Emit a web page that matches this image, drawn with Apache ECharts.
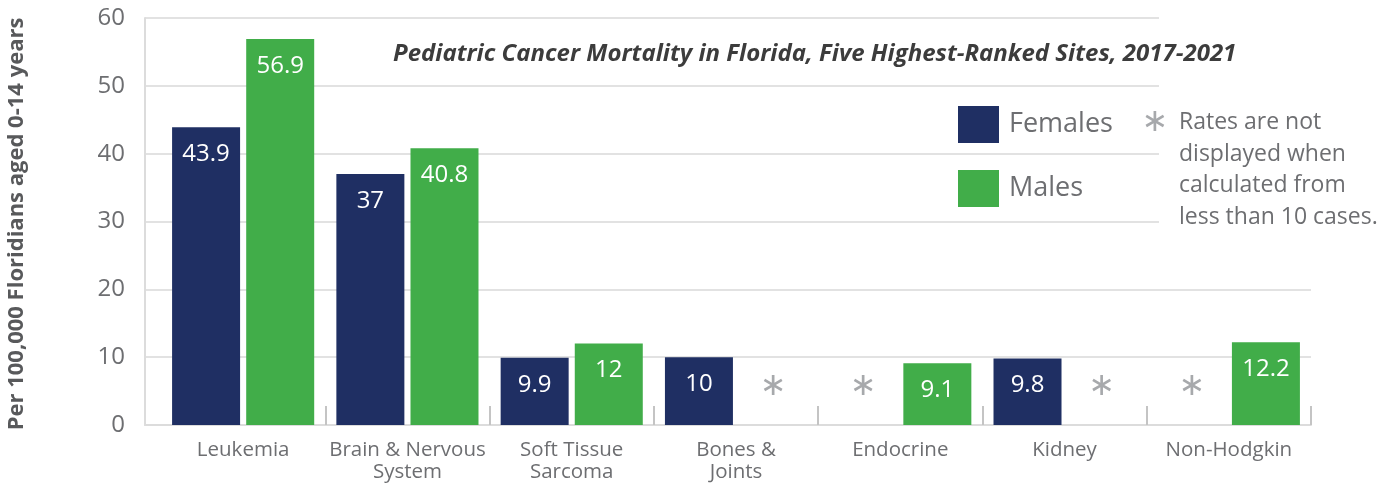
<!DOCTYPE html>
<html lang="en">

<head>
    <meta charset="UTF-8">
    <title>Pediatric Cancer Mortality in Florida</title>
    <style>
        html, body { margin: 0; padding: 0; background: #fff; }
        #main { width: 1397px; height: 485px; }
    </style>
</head>

<body>
    <div id="main"></div>
</body>
<script src="https://cdn.jsdelivr.net/npm/echarts@6/dist/echarts.min.js"></script>
<script>
    // categories and values (null = not displayed, fewer than 10 cases)
    const sites = ['Leukemia', 'Brain & Nervous\nSystem', 'Soft Tissue\nSarcoma', 'Bones &\nJoints', 'Endocrine', 'Kidney', 'Non-Hodgkin'];
    const females = [43.9, 37, 9.9, 10, null, 9.8, null];
    const males = [56.9, 40.8, 12, null, 9.1, null, 12.2];
    const yTicks = [0, 10, 20, 30, 40, 50, 60];

    const NAVY = '#1f2f63';
    const GREEN = '#41ad49';
    const GREY = '#6d6e71';
    const FONT = '"Open Sans", sans-serif';

    // missing values get a zero-height bar carrying an asterisk
    function toData(arr) {
        return arr.map(v => {
            if (v !== null) return v;
            return {
                value: 0,
                label: {
                    show: true,
                    formatter: '\u2217',
                    position: ['50%', -38],
                    align: 'center',
                    verticalAlign: 'middle',
                    color: '#a7a9ac',
                    fontFamily: 'DejaVu Sans',
                    fontSize: 32
                }
            };
        });
    }

    function barSeries(name, color, arr) {
        return {
            name: name,
            type: 'bar',
            xAxisIndex: 1,
            yAxisIndex: 1,
            barWidth: 68,
            barGap: '9%',
            itemStyle: { color: color },
            label: {
                show: true,
                position: 'insideTop',
                distance: 15,
                color: '#fff',
                fontFamily: FONT,
                fontSize: 24
            },
            data: toData(arr)
        };
    }

    const chart = echarts.init(document.getElementById('main'));
    chart.setOption({
        animation: false,
        grid: [
            { left: 145, right: 86, top: 18, bottom: 60 },
            { left: 161, right: 86, top: 18, bottom: 60 }
        ],
        legend: {
            orient: 'vertical',
            left: 953,
            top: 101,
            itemWidth: 41,
            itemHeight: 37,
            itemGap: 27,
            icon: 'rect',
            textStyle: { color: GREY, fontFamily: FONT, fontSize: 27, padding: [0, 0, 0, 5] },
            data: ['Females', 'Males']
        },
        xAxis: [
            {
                type: 'value', gridIndex: 0, min: 0, max: 1,
                axisLine: { show: true, lineStyle: { color: '#dcdcdc', width: 2 } },
                axisTick: { show: false }, axisLabel: { show: false }, splitLine: { show: false }
            },
            {
                type: 'category', gridIndex: 1, data: sites,
                axisLine: { show: false },
                axisTick: {
                    show: true, inside: true, length: 19,
                    interval: (i) => i !== 0,
                    lineStyle: { color: '#c4c4c4', width: 2 }
                },
                axisLabel: { color: GREY, fontFamily: FONT, fontSize: 20.5, lineHeight: 22, margin: 14, interval: 0 }
            }
        ],
        yAxis: [
            {
                type: 'value', gridIndex: 0, min: yTicks[0], max: yTicks[yTicks.length - 1], interval: 10,
                axisLine: { show: true, lineStyle: { color: '#dcdcdc', width: 2 } },
                axisTick: { show: false },
                axisLabel: { color: GREY, fontFamily: FONT, fontSize: 24, margin: 20 },
                splitLine: { lineStyle: { color: '#e2e2e2', width: 2 } }
            },
            {
                type: 'value', gridIndex: 1, min: yTicks[0], max: yTicks[yTicks.length - 1], interval: 10,
                show: false, splitLine: { show: false }
            }
        ],
        graphic: [
            // white panel behind the note, hides the grid lines there
            { type: 'rect', z: 50, shape: { x: 1159, y: 0, width: 238, height: 240 }, style: { fill: '#fff' } },
            {
                type: 'text', z: 60, x: 393, y: 54,
                style: {
                    text: 'Pediatric Cancer Mortality in Florida, Five Highest-Ranked Sites, 2017-2021',
                    fontFamily: FONT, fontSize: 24, fontWeight: 'bold', fontStyle: 'italic',
                    fill: '#3c3c3c', verticalAlign: 'middle'
                }
            },
            {
                type: 'text', z: 60, x: 1155, y: 123,
                style: { text: '\u2217', fontFamily: 'DejaVu Sans', fontSize: 32, fill: '#a7a9ac', align: 'center', verticalAlign: 'middle' }
            },
            {
                type: 'text', z: 60, x: 1179, y: 107,
                style: {
                    text: 'Rates are not\ndisplayed when\ncalculated from\nless than 10 cases.',
                    fontFamily: FONT, fontSize: 23, lineHeight: 31.5, fill: GREY
                }
            },
            {
                type: 'text', z: 60, x: 17, y: 224, rotation: Math.PI / 2,
                style: {
                    text: 'Per 100,000 Floridians aged 0-14 years',
                    fontFamily: FONT, fontSize: 22, fontWeight: 'bold', fill: '#58595b',
                    align: 'center', verticalAlign: 'middle'
                }
            }
        ],
        series: [
            barSeries('Females', NAVY, females),
            barSeries('Males', GREEN, males)
        ]
    });
</script>

</html>
